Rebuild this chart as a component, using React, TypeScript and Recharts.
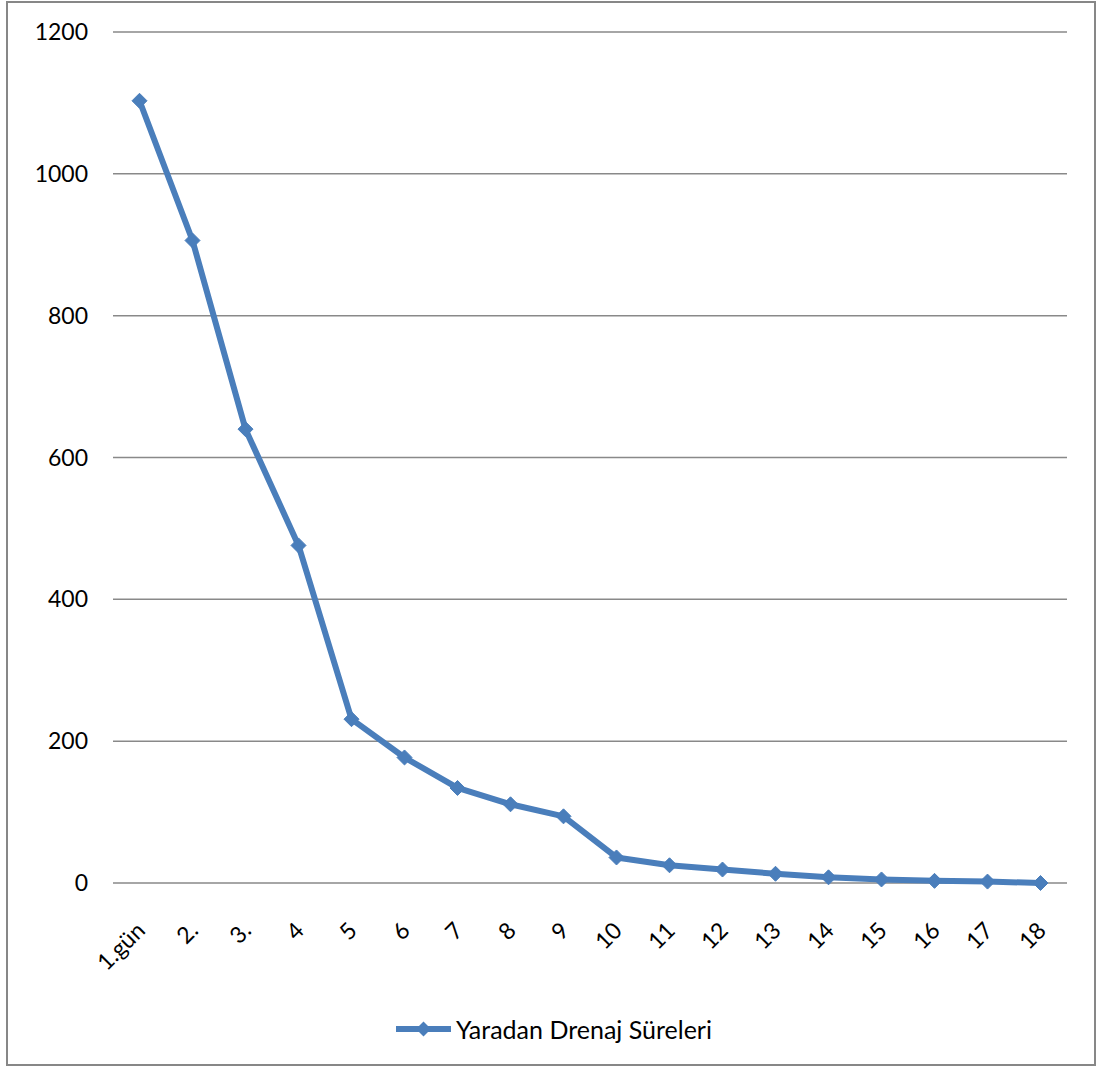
import React from "react";
import { LineChart, Line, XAxis, YAxis, CartesianGrid, Legend } from "recharts";

// Days after surgery (x-axis categories)
const days = ["1.gün", "2.", "3.", "4", "5", "6", "7", "8", "9", "10", "11", "12", "13", "14", "15", "16", "17", "18"];
// Wound drainage amounts per day
const drainage = [1103, 906, 640, 476, 231, 177, 134, 111, 94, 36, 25, 19, 13, 8, 5, 3, 2, 0];
const yTicks = [0, 200, 400, 600, 800, 1000, 1200];

const SERIES_NAME = "Yaradan Drenaj Süreleri";
const LINE_COLOR = "#4a7ebb";
const GRID_COLOR = "#898989";
const FONT = "Lato, 'Open Sans', sans-serif";

const data = days.map((d, i) => ({ day: d, value: drainage[i] }));

const Diamond = (props: any) => {
  const { cx, cy } = props;
  if (cx == null || cy == null) return null;
  const r = 7.5;
  return (
    <polygon
      points={`${cx},${cy - r} ${cx + r},${cy} ${cx},${cy + r} ${cx - r},${cy}`}
      fill={LINE_COLOR}
      stroke={LINE_COLOR}
      strokeWidth={1}
    />
  );
};

const XTick = (props: any) => {
  const { x, y, payload } = props;
  const ax = x + 7;
  const ay = y + 41;
  return (
    <text
      x={ax}
      y={ay}
      textAnchor="end"
      transform={`rotate(-45, ${ax}, ${ay})`}
      fontFamily={FONT}
      fontSize={23}
      fill="#000"
    >
      {payload.value}
    </text>
  );
};

const LegendContent = () => (
  <div
    style={{
      display: "flex",
      justifyContent: "center",
      alignItems: "center",
      height: 60,
      paddingLeft: 40,
      boxSizing: "border-box",
      paddingBottom: 18,
    }}
  >
    <svg width={58} height={18} style={{ marginRight: 3 }}>
      <line x1={1} y1={9} x2={56} y2={9} stroke={LINE_COLOR} strokeWidth={6} />
      <polygon points="28.5,1.5 36,9 28.5,16.5 21,9" fill={LINE_COLOR} />
    </svg>
    <span style={{ fontFamily: FONT, fontSize: 25, color: "#000" }}>{SERIES_NAME}</span>
  </div>
);

export default function App() {
  return (
    <div style={{ position: "absolute", left: 0, top: 0, width: 1099, height: 1068, background: "#fff" }}>
      <div
        style={{
          position: "absolute",
          left: 6,
          top: 1,
          width: 1090,
          height: 1065,
          border: "2px solid #878787",
          boxSizing: "border-box",
        }}
      />
      <LineChart
        width={1099}
        height={1068}
        data={data}
        margin={{ top: 32, right: 32, bottom: 0, left: 0 }}
      >
        <CartesianGrid vertical={false} stroke={GRID_COLOR} strokeWidth={1.5} />
        <XAxis
          dataKey="day"
          axisLine={false}
          tickLine={false}
          interval={0}
          height={125}
          padding={{ left: 26.5, right: 26.5 }}
          tick={<XTick />}
        />
        <YAxis
          domain={[0, 1200]}
          ticks={yTicks}
          width={113}
          axisLine={false}
          tickLine={false}
          tickMargin={19}
          tick={{ fontFamily: FONT, fontSize: 23, fill: "#000" }}
        />
        <Legend verticalAlign="bottom" content={<LegendContent />} wrapperStyle={{ height: 60 }} />
        <Line
          type="linear"
          dataKey="value"
          name={SERIES_NAME}
          stroke={LINE_COLOR}
          strokeWidth={6}
          strokeLinejoin="round"
          dot={<Diamond />}
          activeDot={false}
          isAnimationActive={false}
        />
      </LineChart>
    </div>
  );
}
